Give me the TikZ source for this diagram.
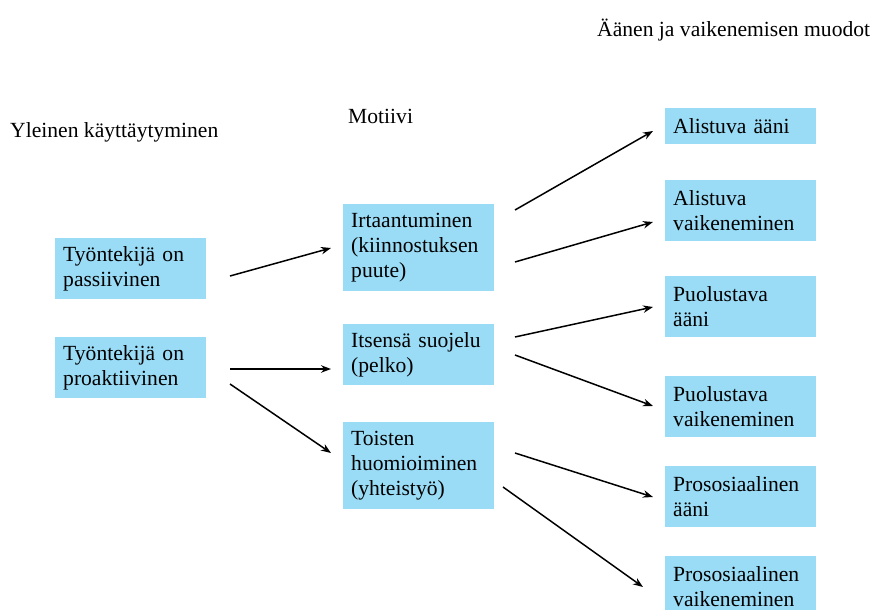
\documentclass[tikz,border=0pt]{standalone}
\usepackage{fontspec}
\setmainfont{Liberation Serif}
\usetikzlibrary{arrows.meta}
\definecolor{boxblue}{HTML}{9ADCF6}
\begin{document}
\begin{tikzpicture}[x=1pt,y=-1pt,
  every node/.style={font=\fontsize{21.6}{25}\selectfont},
  bx/.style={fill=boxblue, anchor=north west, minimum width=151pt, text width=135pt,
    inner xsep=8pt, inner ysep=0pt, align=left},
  h2/.style={bx, minimum height=61pt},
  h1/.style={bx, minimum height=36pt},
  h3/.style={bx, minimum height=87pt},
  lbl/.style={anchor=base west, inner sep=0pt},
  arr/.style={-{Stealth[length=10pt,width=7.5pt]}, line width=1.5pt}]
\clip (0,0) rectangle (871,610);
\useasboundingbox (0,0) rectangle (871,610);
% headings
\node[lbl] (hA) at (10,138) {Yleinen käyttäytyminen};
\node[lbl] (hB) at (348,124) {Motiivi};
\node[lbl] (hC) at (597,37) {Äänen ja vaikenemisen muodot};
% left
\node[h2] (L1) at (55,238) {Työntekijä on\\passiivinen};
\node[h2] (L2) at (55,337) {Työntekijä on\\proaktiivinen};
% middle
\node[h3] (M1) at (343,204) {Irtaantuminen\\(kiinnostuksen\\puute)};
\node[h2] (M2) at (343,324) {Itsensä suojelu\\(pelko)};
\node[h3] (M3) at (343,422) {Toisten\\huomioiminen\\(yhteistyö)};
% right
\node[h1] (R1) at (665,108) {Alistuva ääni};
\node[h2] (R2) at (665,180) {Alistuva\\vaikeneminen};
\node[h2] (R3) at (665,276) {Puolustava\\ääni};
\node[h2] (R4) at (665,376) {Puolustava\\vaikeneminen};
\node[h2] (R5) at (665,466) {Prososiaalinen\\ääni};
\node[h2] (R6) at (665,556) {Prososiaalinen\\vaikeneminen};
% arrow ends
\coordinate (a1s) at (230,276); \coordinate (a1e) at (331,248);
\coordinate (a2s) at (230,369); \coordinate (a2e) at (331,369);
\coordinate (a3s) at (230,384); \coordinate (a3e) at (331,453);
\coordinate (a4s) at (515,210); \coordinate (a4e) at (653,131);
\coordinate (a5s) at (515,262); \coordinate (a5e) at (653,222);
\coordinate (a6s) at (515,337); \coordinate (a6e) at (653,307);
\coordinate (a7s) at (515,355); \coordinate (a7e) at (653,406);
\coordinate (a8s) at (515,453); \coordinate (a8e) at (653,497);
\coordinate (a9s) at (503,487); \coordinate (a9e) at (643,587);
\foreach \i in {1,...,9} \draw[arr] (a\i s) -- (a\i e);
\end{tikzpicture}
\end{document}
